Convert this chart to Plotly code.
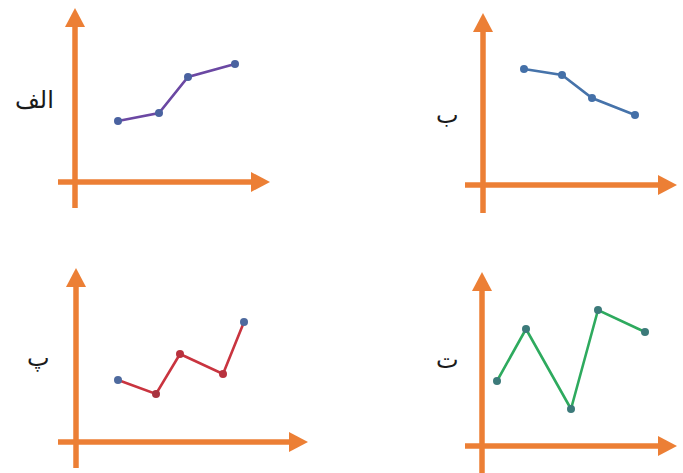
import plotly.graph_objects as go

# ---- data (units measured from each panel's axis origin, x right / y up) ----
labels = ["الف", "ب", "پ", "ت"]

x_alef = [43, 84, 113, 160]
y_alef = [61, 69, 105, 118]

x_be = [41, 79, 109, 152]
y_be = [116, 110, 87, 70]

x_pe = [42, 80, 104, 147, 168]
y_pe = [62, 48, 88, 68, 120]

x_te = [15, 44, 89, 116, 163]
y_te = [65, 117, 37, 136, 114]

# ---- styling / layout ----
W, H = 683, 473
ORANGE = "#EC7F35"

panels = [
    dict(x=x_alef, y=y_alef, line="#6B48A3", marker=["#4A62A0"] * 4,
         origin=(75, 182), dom=((0, 341.5), (0, 236.5)),
         vtip=174, vbot=-26, hleft=-17, htip=195, lab=(-41, 82)),
    dict(x=x_be, y=y_be, line="#4673AA", marker=["#4470A8"] * 4,
         origin=(483, 185), dom=((341.5, 683), (0, 236.5)),
         vtip=172, vbot=-28, hleft=-18, htip=194, lab=(-36, 70)),
    dict(x=x_pe, y=y_pe, line="#C9343F", marker=["#4E6A9E", "#A8323E", "#B8323E", "#B8323E", "#4E6A9E"],
         origin=(76, 442), dom=((0, 341.5), (236.5, 473)),
         vtip=174, vbot=-26, hleft=-18, htip=232, lab=(-38, 84)),
    dict(x=x_te, y=y_te, line="#2EAA5E", marker=["#3C7A7A"] * 5,
         origin=(482, 446), dom=((341.5, 683), (236.5, 473)),
         vtip=174, vbot=-30, hleft=-17, htip=195, lab=(-35, 86)),
]

fig = go.Figure()
shapes = []
annotations = []
layout_axes = {}

AW = 10   # half width of arrow head
AL = 19   # arrow head length

for i, p in enumerate(panels):
    n = i + 1
    xa = "x" if n == 1 else f"x{n}"
    ya = "y" if n == 1 else f"y{n}"
    xkey = "xaxis" if n == 1 else f"xaxis{n}"
    ykey = "yaxis" if n == 1 else f"yaxis{n}"
    ox, oy = p["origin"]
    (x0, x1), (y0, y1) = p["dom"]
    layout_axes[xkey] = dict(domain=[x0 / W, x1 / W], range=[x0 - ox, x1 - ox],
                             visible=False, fixedrange=True, anchor=ya)
    layout_axes[ykey] = dict(domain=[1 - y1 / H, 1 - y0 / H], range=[oy - y1, oy - y0],
                             visible=False, fixedrange=True, anchor=xa)

    # orange axes
    shapes.append(dict(type="line", xref=xa, yref=ya, x0=0, x1=0,
                       y0=p["vbot"], y1=p["vtip"] - AL + 1,
                       line=dict(color=ORANGE, width=5.5), layer="below"))
    shapes.append(dict(type="line", xref=xa, yref=ya, y0=0, y1=0,
                       x0=p["hleft"], x1=p["htip"] - AL + 1,
                       line=dict(color=ORANGE, width=5.5), layer="below"))
    vt, ht = p["vtip"], p["htip"]
    shapes.append(dict(type="path", xref=xa, yref=ya,
                       path=f"M {-AW},{vt - AL} L {AW},{vt - AL} L 0,{vt} Z",
                       fillcolor=ORANGE, line=dict(width=0), layer="below"))
    shapes.append(dict(type="path", xref=xa, yref=ya,
                       path=f"M {ht - AL},{-AW} L {ht - AL},{AW} L {ht},0 Z",
                       fillcolor=ORANGE, line=dict(width=0), layer="below"))

    fig.add_trace(go.Scatter(x=p["x"], y=p["y"], xaxis=xa, yaxis=ya,
                             mode="lines+markers",
                             line=dict(color=p["line"], width=2.6),
                             marker=dict(color=p["marker"], size=8),
                             showlegend=False, hoverinfo="skip"))

    lx, ly = p["lab"]
    annotations.append(dict(xref=xa, yref=ya, x=lx, y=ly, text=labels[i],
                            showarrow=False,
                            font=dict(family="DejaVu Sans", size=24, color="#1a1a1a")))

fig.update_layout(width=W, height=H, margin=dict(l=0, r=0, t=0, b=0),
                  paper_bgcolor="white", plot_bgcolor="white",
                  shapes=shapes, annotations=annotations, **layout_axes)

fig.write_html("out.html", config={"displayModeBar": False, "staticPlot": True},
               post_script="document.body.style.margin='0';document.body.style.overflow='hidden';")
